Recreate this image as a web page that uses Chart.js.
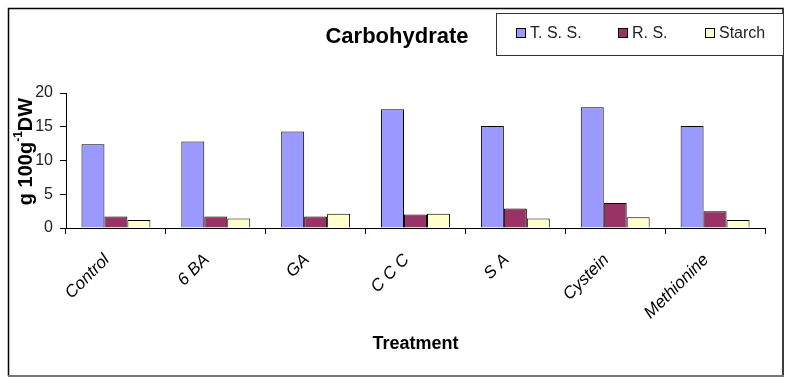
<!DOCTYPE html>
<html>
<head>
<meta charset="utf-8">
<script src="https://cdn.jsdelivr.net/npm/chart.js@4"></script>
<style>
  html, body { margin: 0; padding: 0; background: #fff; }
  #wrap { width: 795px; height: 385px; position: relative; }
</style>
</head>
<body>
<div id="wrap"><canvas id="myChart" width="795" height="385"></canvas></div>
<script>
const chartTitle = 'Carbohydrate';
const treatments = ['Control', '6 BA', 'GA', 'C C C', 'S A', 'Cystein', 'Methionine'];
const tss = [12.4, 12.8, 14.3, 17.6, 15.1, 17.9, 15.1];
const rs = [1.7, 1.7, 1.7, 2.0, 2.9, 3.7, 2.5];
const starch = [1.2, 1.4, 2.1, 2.1, 1.4, 1.6, 1.2];
const yTicks = [0, 5, 10, 15, 20];

// frame round the whole chart, drawn first
const framePlugin = {
  id: 'frame',
  beforeDraw(chart) {
    const ctx = chart.ctx;
    ctx.save();
    ctx.fillStyle = '#fff';
    ctx.fillRect(0, 0, chart.width, chart.height);
    ctx.strokeStyle = '#000';
    ctx.lineWidth = 1.5;
    ctx.beginPath();
    ctx.moveTo(8.5, 376);
    ctx.lineTo(8.5, 8.5);
    ctx.lineTo(783, 8.5);
    ctx.lineTo(783, 376);
    ctx.stroke();
    ctx.strokeStyle = '#777';
    ctx.lineWidth = 2;
    ctx.beginPath();
    ctx.moveTo(8, 376);
    ctx.lineTo(784, 376);
    ctx.stroke();
    ctx.restore();
  }
};

// title, y title with a real superscript, and the boxed legend
const extrasPlugin = {
  id: 'extras',
  afterDraw(chart) {
    const ctx = chart.ctx;
    const area = chart.chartArea;

    // main title, centred on the frame
    ctx.save();
    ctx.fillStyle = '#000';
    ctx.font = 'bold 22px "Liberation Sans", Arial, sans-serif';
    ctx.textAlign = 'center';
    ctx.textBaseline = 'middle';
    ctx.fillText(chartTitle, 397, 37);
    ctx.restore();

    // y axis title
    ctx.save();
    ctx.translate(26, (area.top + area.bottom) / 2 - 9);
    ctx.rotate(-Math.PI / 2);
    ctx.fillStyle = '#000';
    ctx.textBaseline = 'middle';
    const big = 'bold 20px "Liberation Sans", Arial, sans-serif';
    const small = 'bold 12px "Liberation Sans", Arial, sans-serif';
    const parts = [['g 100g', big, 0], ['-1', small, -7], ['DW', big, 0]];
    let w = 0;
    parts.forEach(p => { ctx.font = p[1]; w += ctx.measureText(p[0]).width; });
    let x = -w / 2;
    parts.forEach(p => {
      ctx.font = p[1];
      ctx.textAlign = 'left';
      ctx.fillText(p[0], x, p[2]);
      x += ctx.measureText(p[0]).width;
    });
    ctx.restore();

    // legend box
    ctx.save();
    ctx.fillStyle = '#fff';
    ctx.fillRect(496.5, 13.5, 287, 42);
    ctx.strokeStyle = '#333';
    ctx.lineWidth = 1;
    ctx.strokeRect(496.5, 13.5, 287, 42);
    const boxX = [516, 618, 705];
    ctx.font = '16px "Liberation Sans", Arial, sans-serif';
    ctx.textBaseline = 'middle';
    ctx.textAlign = 'left';
    chart.data.datasets.forEach((ds, i) => {
      ctx.fillStyle = ds.backgroundColor;
      ctx.fillRect(boxX[i] + 0.5, 28.5, 9, 9);
      ctx.strokeStyle = '#000';
      ctx.strokeRect(boxX[i] + 0.5, 28.5, 9, 9);
      ctx.fillStyle = '#222';
      ctx.fillText(ds.label, boxX[i] + 14, 33.5);
    });
    ctx.restore();
  }
};

const chartData = {
  labels: treatments,
  datasets: [
    { label: 'T. S. S.', data: tss, backgroundColor: '#9999FF', borderColor: '#000', borderWidth: 1 },
    { label: 'R. S.', data: rs, backgroundColor: '#993366', borderColor: '#000', borderWidth: 1 },
    { label: 'Starch', data: starch, backgroundColor: '#FFFFCC', borderColor: '#000', borderWidth: 1 }
  ]
};

const config = {
  type: 'bar',
  data: chartData,
  options: {
    responsive: false,
    animation: false,
    devicePixelRatio: 1,
    layout: { padding: { left: 8, right: 30, top: 93, bottom: 10 } },
    datasets: { bar: { categoryPercentage: 0.69, barPercentage: 1 } },
    plugins: {
      legend: { display: false },
      tooltip: { enabled: false },
      title: { display: false }
    },
    scales: {
      x: {
        afterFit(scale) { scale.height = 147; },
        grid: { display: true, drawOnChartArea: false, drawTicks: true, tickLength: 6, color: '#000' },
        border: { color: '#000', width: 1 },
        ticks: {
          autoSkip: false,
          minRotation: 45,
          maxRotation: 45,
          padding: 16,
          labelOffset: -9,
          color: '#000',
          font: { family: '"Liberation Sans", Arial, sans-serif', size: 17, style: 'italic' }
        },
        title: {
          display: true,
          text: 'Treatment',
          color: '#000',
          font: { family: '"Liberation Sans", Arial, sans-serif', size: 18, weight: 'bold' },
          padding: { top: 0, bottom: 20 }
        }
      },
      y: {
        min: 0,
        max: 20,
        afterFit(scale) { scale.width = 58; },
        afterBuildTicks(scale) { scale.ticks = yTicks.map(v => ({ value: v })); },
        grid: { display: true, drawOnChartArea: false, drawTicks: true, tickLength: 6, color: '#000' },
        border: { color: '#000', width: 1 },
        ticks: {
          padding: 7,
          color: '#222',
          font: { family: '"Liberation Sans", Arial, sans-serif', size: 16 }
        }
      }
    }
  },
  plugins: [framePlugin, extrasPlugin]
};

const myChart = new Chart(document.getElementById('myChart'), config);
</script>
</body>
</html>
